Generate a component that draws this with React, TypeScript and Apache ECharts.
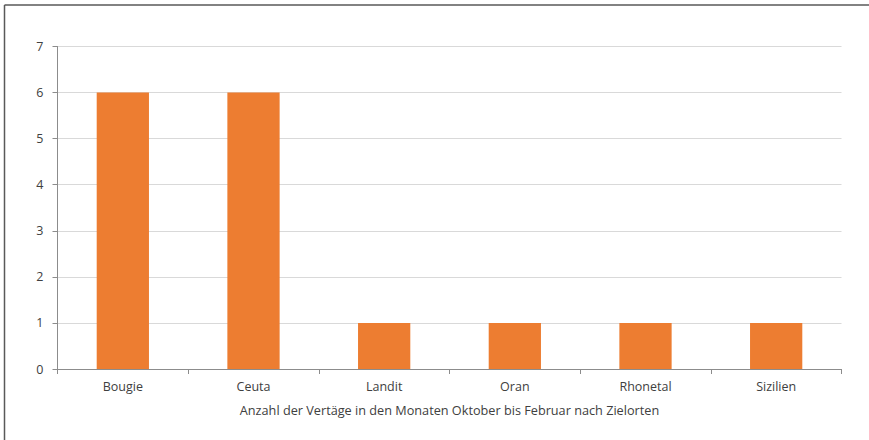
import React, { useEffect, useRef } from "react";
import * as echarts from "echarts";

const categories = ["Bougie", "Ceuta", "Landit", "Oran", "Rhonetal", "Sizilien"];
const values = [6, 6, 1, 1, 1, 1];
const axisTitle = "Anzahl der Vertäge in den Monaten Oktober bis Februar nach Zielorten";

export default function App() {
  const ref = useRef<HTMLDivElement>(null);
  useEffect(() => {
    if (!ref.current) return;
    const chart = echarts.init(ref.current, null, { renderer: "svg" });
    const font = "Open Sans";
    chart.setOption({
      animation: false,
      backgroundColor: "#ffffff",
      textStyle: { fontFamily: font },
      grid: { left: 57.5, right: 27.5, top: 46.5, bottom: 71, containLabel: false },
      xAxis: {
        type: "category",
        data: categories,
        name: axisTitle,
        nameLocation: "middle",
        nameGap: 34,
        nameTextStyle: { color: "#404040", fontSize: 12.7, fontFamily: font },
        axisLine: { lineStyle: { color: "#8c8c8c", width: 1 } },
        axisTick: { show: true, length: 5, inside: false, lineStyle: { color: "#8c8c8c" } },
        axisLabel: { color: "#404040", fontSize: 12.5, margin: 11, fontFamily: font },
      },
      yAxis: {
        type: "value",
        min: 0,
        max: 7,
        interval: 1,
        axisLine: { show: true, lineStyle: { color: "#8c8c8c", width: 1 } },
        axisTick: { show: true, length: 5, lineStyle: { color: "#8c8c8c" } },
        axisLabel: { color: "#404040", fontSize: 12.5, margin: 14, fontFamily: font },
        splitLine: { show: true, lineStyle: { color: "#d9d9d9", width: 1 } },
      },
      series: [
        {
          type: "bar",
          data: values,
          barCategoryGap: "60%",
          itemStyle: { color: "#ed7d31" },
        },
      ],
      graphic: [
        { type: "line", shape: { x1: 4.5, y1: 5, x2: 869, y2: 5 }, style: { stroke: "#595959", lineWidth: 1.5 } },
        { type: "line", shape: { x1: 4.5, y1: 5, x2: 4.5, y2: 440 }, style: { stroke: "#595959", lineWidth: 1.5 } },
      ],
    });
    return () => chart.dispose();
  }, []);
  return (
    <div
      ref={ref}
      style={{ position: "fixed", left: 0, top: 0, width: 869, height: 440 }}
    />
  );
}
